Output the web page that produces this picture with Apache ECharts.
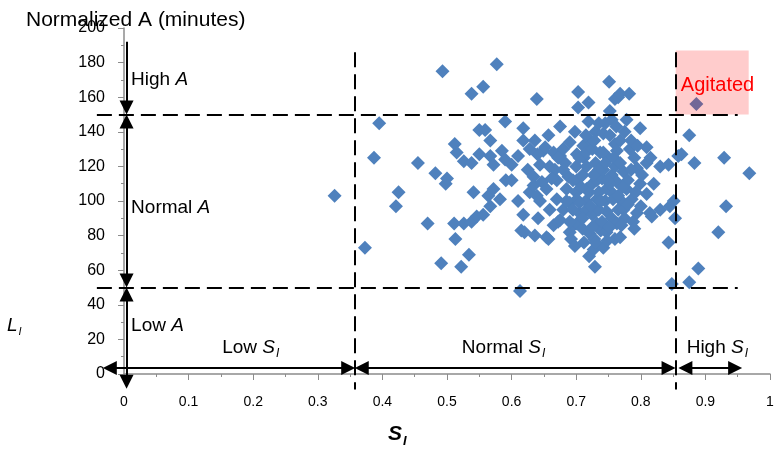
<!DOCTYPE html>
<html><head><meta charset="utf-8">
<script src="https://cdn.jsdelivr.net/npm/echarts@6/dist/echarts.min.js"></script>
<style>html,body{margin:0;padding:0;background:#fff}#c{width:777px;height:451px}</style>
</head><body><div id="c"></div>
<script>
// [S_I, normalized A (minutes)]
const normalPoints = [
[0.326,103],[0.373,73],[0.387,125],[0.395,145],[0.421,97],[0.425,105],[0.455,122],[0.470,87],[0.482,116],[0.491,64],[0.493,175],[0.498,110],[0.500,113],[0.511,87],[0.512,133],[0.513,78],[0.515,128],[0.522,62],[0.526,123],[0.526,87],[0.534,69],[0.538,162],[0.538,122],[0.538,88],[0.541,105],[0.546,91],[0.550,127],[0.550,141],[0.556,166],[0.556,92],[0.559,141],[0.564,103],[0.567,135],[0.567,126],[0.567,97],[0.572,121],[0.572,107],[0.577,179],[0.582,101],[0.585,129],[0.590,146],[0.590,124],[0.591,112],[0.600,121],[0.610,100],[0.613,48],
[0.615,83],[0.618,142],[0.618,135],[0.618,92],[0.620,82],[0.628,105],[0.625,118],[0.634,114],[0.634,109],[0.636,135],[0.636,80],[0.639,159],[0.639,103],[0.641,90],[0.644,121],[0.644,100],[0.647,111],[0.649,129],[0.652,131],[0.654,107],[0.654,79],[0.657,138],[0.657,78],[0.659,120],[0.659,95],[0.665,86],[0.665,128],[0.667,118],[0.670,112],[0.670,101],[0.672,88],[0.675,143],[0.675,126],[0.675,89],[0.680,130],[0.680,95],[0.683,122],[0.685,107],[0.688,114],[0.690,99],[0.690,134],[0.690,82],[0.692,78],[0.696,86],[0.698,74],[0.698,140],[0.700,120],[0.700,105],[0.701,127],[0.701,112],[0.701,101],[0.701,87],[0.703,163],[0.703,154],[0.705,93],[0.710,115],[0.710,84],[0.711,132],[0.712,125],[0.712,76],[0.716,120],[0.716,107],[0.716,95],[0.715,100],[0.719,157],[0.719,146],[0.720,68],[0.720,105],[0.721,135],[0.721,81],[0.725,110],[0.725,92],[0.727,72],[0.728,78],[0.729,62],[0.730,122],[0.730,140],[0.732,112],[0.732,101],[0.732,87],[0.735,105],[0.735,95],[0.737,128],[0.738,83],[0.740,88],[0.740,113],[0.742,139],[0.742,118],[0.742,73],[0.745,100],[0.745,145],[0.747,107],[0.747,94],[0.747,82],[0.750,125],[0.751,169],[0.752,152],[0.755,147],[0.755,115],[0.755,90],[0.755,105],[0.757,101],[0.760,159],[0.760,120],[0.760,133],[0.760,78],[0.763,129],[0.763,111],[0.763,87],[0.765,160],[0.765,95],[0.768,162],[0.768,135],[0.768,79],[0.770,100],[0.773,117],[0.773,95],[0.775,140],[0.775,90],[0.778,147],[0.778,107],[0.780,112],[0.782,162],[0.783,130],[0.786,101],[0.788,88],[0.790,125],[0.790,84],[0.794,119],[0.794,93],[0.799,142],[0.799,110],[0.800,97],[0.809,131],[0.809,122],[0.809,104],[0.814,93],[0.815,125],[0.817,91],[0.820,110],[0.830,120],[0.830,95],[0.843,121],[0.843,76],[0.845,97],[0.848,52],[0.851,100],[0.853,90],[0.858,126],[0.863,127],[0.875,138],[0.875,53],[0.883,122],[0.889,61],[0.920,82],[0.929,125],[0.932,97],[0.968,116],
[0.705,125],[0.715,128],[0.725,130],[0.735,118],[0.745,122],[0.752,110],[0.727,115],[0.708,108],[0.695,112],[0.685,100],[0.695,95],[0.705,99],[0.722,97],[0.738,100],[0.748,112],[0.758,125],[0.768,122],[0.772,108],[0.765,103],[0.780,98],[0.785,118],[0.792,105],[0.802,115],[0.742,128],[0.728,135],[0.715,138],[0.735,145],[0.752,138],[0.762,143],[0.785,135],[0.795,132],[0.680,118],[0.672,125],[0.662,113],[0.690,88],[0.710,90],[0.725,85],[0.752,85],[0.770,86],[0.730,76],[0.748,77],[0.640,127],[0.628,130],[0.610,126],[0.600,112]
];
const agitatedPoints = [[0.886,156]];
const aThresholds = [50, 150];        // normal A band
const sThresholds = [0.357, 0.854];   // normal S_I band
const agitatedBox = [[0.854, 150], [0.967, 187]];
const xRange = [0, 1, 0.1];
const yRange = [0, 200, 20];
// overlay axes (hidden) with the same scale, extended to reach below/left of the origin
const xOverlay = [-0.05, 1];
const yOverlay = [-10, 200];

const W = 777, H = 451;
const G = {left: 124, right: 7, top: 28, bottom: 77};
const pxPerX = (W - G.left - G.right) / (xRange[1] - xRange[0]);
const pxPerY = (H - G.top - G.bottom) / (yRange[1] - yRange[0]);

const font = 'Liberation Sans, Arial, sans-serif';
const BLACK = '#000';
const dash = {color: BLACK, width: 2, type: [15, 7]};
const solid = {color: BLACK, width: 2, type: 'solid'};
const AH = [14, 14];

function seg(a, b, sa, sb, style) {
  return [
    {coord: a, symbol: sa, symbolSize: AH, lineStyle: style},
    {coord: b, symbol: sb, symbolSize: AH}
  ];
}
const ax = 0.004, ay = 3.5;
const lines = [
  seg([-0.042, aThresholds[1]], [0.95, aThresholds[1]], 'none', 'none', dash),
  seg([-0.042, aThresholds[0]], [0.95, aThresholds[0]], 'none', 'none', dash),
  seg([sThresholds[0], 186], [sThresholds[0], -9], 'none', 'none', dash),
  seg([sThresholds[1], 186], [sThresholds[1], -9], 'none', 'none', dash),
  // vertical arrows
  seg([ax, 192], [ax, 154], 'none', 'triangle', solid),
  seg([ax, 146], [ax, 54], 'triangle', 'triangle', solid),
  seg([ax, 46], [ax, -4.5], 'triangle', 'triangle', solid),
  // horizontal arrows
  seg([-0.022, ay], [0.347, ay], 'triangle', 'triangle', solid),
  seg([0.368, ay], [0.843, ay], 'triangle', 'triangle', solid),
  seg([0.869, ay], [0.946, ay], 'triangle', 'triangle', solid)
];

const rich = {
  n: {fontFamily: font, fontSize: 19, color: BLACK},
  i: {fontFamily: font, fontSize: 19, fontStyle: 'italic', color: BLACK},
  s: {fontFamily: font, fontSize: 12, fontStyle: 'italic', color: BLACK, padding: [12, 0, 0, 1]},
  r: {fontFamily: font, fontSize: 20, color: '#FF0000'}
};
function ann(coord, text) {
  return {coord: coord, symbol: 'circle', symbolSize: 0,
    label: {show: true, position: 'right', distance: 0, formatter: text, rich: rich}};
}
const annotations = [
  ann([0.011, 170], '{n|High }{i|A}'),
  ann([0.011, 96], '{n|Normal }{i|A}'),
  ann([0.011, 28], '{n|Low }{i|A}'),
  ann([0.152, 15], '{n|Low }{i|S}{s|I}'),
  ann([0.523, 15], '{n|Normal }{i|S}{s|I}'),
  ann([0.871, 15], '{n|High }{i|S}{s|I}'),
  ann([0.862, 167], '{r|Agitated}')
];

const axisGray = '#8c8c8c';
const chart = echarts.init(document.getElementById('c'), null, {renderer: 'canvas'});
chart.setOption({
  animation: false,
  backgroundColor: '#fff',
  title: {text: 'Normalized A (minutes)', left: 21, top: 5,
    textStyle: {fontFamily: font, fontSize: 21, fontWeight: 'normal', color: BLACK}},
  grid: [
    {left: G.left, right: G.right, top: G.top, bottom: G.bottom},
    {left: G.left + xOverlay[0] * pxPerX, right: G.right - (xOverlay[1] - xRange[1]) * pxPerX,
     top: G.top, bottom: G.bottom + yOverlay[0] * pxPerY}
  ],
  xAxis: [
    {type: 'value', gridIndex: 0, min: xRange[0], max: xRange[1], interval: xRange[2],
      splitLine: {show: false},
      axisLine: {show: true, onZero: false, lineStyle: {color: axisGray, width: 1.5}},
      axisTick: {show: true, length: 6, lineStyle: {color: axisGray, width: 1}},
      minorTick: {show: true, splitNumber: 2, length: 3, lineStyle: {color: axisGray, width: 1}},
      axisLabel: {fontFamily: font, fontSize: 14, color: BLACK, margin: 21}},
    {type: 'value', gridIndex: 1, min: xOverlay[0], max: xOverlay[1], show: false}
  ],
  yAxis: [
    {type: 'value', gridIndex: 0, min: yRange[0], max: yRange[1], interval: yRange[2],
      splitLine: {show: false},
      axisLine: {show: true, onZero: false, lineStyle: {color: axisGray, width: 1.5}},
      axisTick: {show: true, length: 6, lineStyle: {color: axisGray, width: 1}},
      minorTick: {show: true, splitNumber: 2, length: 3, lineStyle: {color: axisGray, width: 1}},
      axisLabel: {fontFamily: font, fontSize: 16, color: BLACK, margin: 19}},
    {type: 'value', gridIndex: 1, min: yOverlay[0], max: yOverlay[1], show: false}
  ],
  graphic: [
    {type: 'text', left: 7, top: 316, style: {
      text: '{i|L}{s|I}', rich: {
        i: {fontFamily: font, fontSize: 19, fontStyle: 'italic', fill: BLACK},
        s: {fontFamily: font, fontSize: 11, fontStyle: 'italic', fill: BLACK, padding: [12, 0, 0, 1]}}}},
    {type: 'text', left: 388, top: 424, style: {
      text: '{i|S}{s|I}', rich: {
        i: {fontFamily: font, fontSize: 21, fontStyle: 'italic', fontWeight: 'bold', fill: BLACK},
        s: {fontFamily: font, fontSize: 13, fontStyle: 'italic', fontWeight: 'bold', fill: BLACK, padding: [14, 0, 0, 1]}}}}
  ],
  series: [
    {type: 'scatter', name: 'agitated', xAxisIndex: 1, yAxisIndex: 1, clip: false, z: 2,
      symbol: 'diamond', symbolSize: 14,
      itemStyle: {color: '#726797', opacity: 1},
      data: agitatedPoints,
      markArea: {silent: true, itemStyle: {color: '#FFCCCC'},
        data: [[{coord: agitatedBox[0]}, {coord: agitatedBox[1]}]]},
      markLine: {silent: true, animation: false, label: {show: false},
        emphasis: {disabled: true}, symbol: ['none', 'none'], data: lines},
      markPoint: {silent: true, animation: false, data: annotations}
    },
    {type: 'scatter', name: 'patients', xAxisIndex: 0, yAxisIndex: 0, clip: false, z: 3,
      symbol: 'diamond', symbolSize: 14,
      itemStyle: {color: '#4F81BD', opacity: 1},
      data: normalPoints}
  ]
});
</script></body></html>
